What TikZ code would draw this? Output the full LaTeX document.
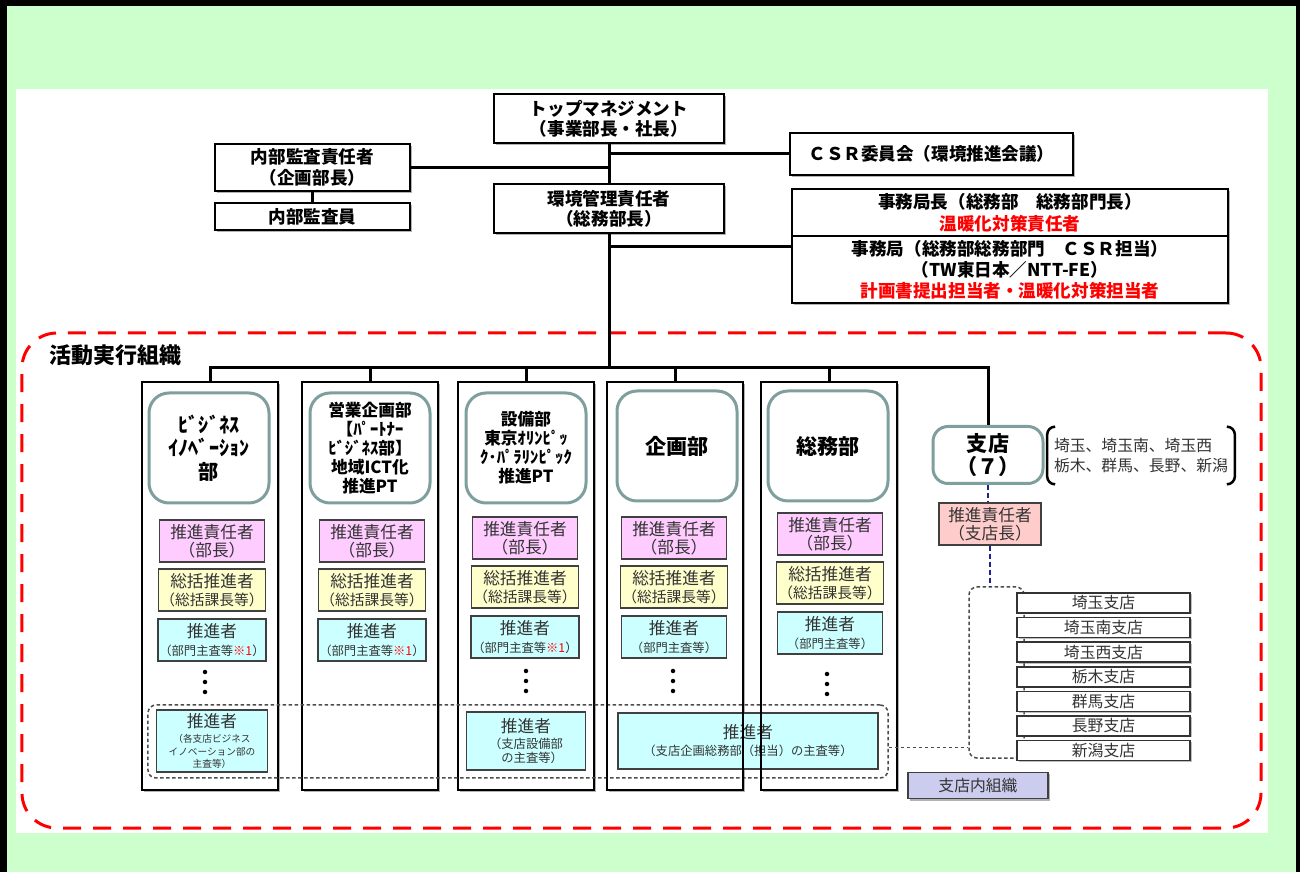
\documentclass[tikz,border=0pt]{standalone}
\usepackage{fontspec}
\setmainfont{Noto Sans CJK JP}
\usepackage{xcolor}
\usetikzlibrary{shadows, positioning, calc}
\definecolor{panelgreen}{HTML}{CCFFCC}
\definecolor{deptteal}{HTML}{7F9F9F}
\definecolor{leadpink}{HTML}{FFCCFF}
\definecolor{chiefyellow}{HTML}{FFFFCC}
\definecolor{membercyan}{HTML}{CCFFFF}
\definecolor{branchpink}{HTML}{FFCCCC}
\definecolor{localviolet}{HTML}{CCCCEE}
\definecolor{alertred}{HTML}{FF0000}
\definecolor{linknavy}{HTML}{20208F}
\newcommand{\notejp}{\fontsize{7}{8}\selectfont}
\newcommand{\tinyjp}{\fontsize{5.5}{7}\selectfont}

\begin{document}
\begin{tikzpicture}[x=0.2mm, y=-0.2mm,
  softshadow/.style={drop shadow={shadow xshift=0.4mm, shadow yshift=-0.4mm, fill=black!60, opacity=.5}},
  mgmt/.style={rectangle, draw=black, line width=0.3mm, fill=white, align=center, inner sep=0.5mm, font=\bfseries\fontsize{10}{11.5}\selectfont, softshadow},
  column/.style={rectangle, draw=black, line width=0.5mm, fill=white, outer sep=0, minimum width=27.2mm, minimum height=81.6mm, softshadow},
  dept/.style={rectangle, draw=deptteal, line width=0.6mm, fill=white, rounded corners=4mm, minimum width=24mm, minimum height=22mm, align=center, font=\bfseries\fontsize{9.5}{10.8}\selectfont},
  lead/.style={rectangle, draw=black!75, line width=0.25mm, fill=leadpink, minimum width=21mm, minimum height=8.4mm, align=center, inner sep=0.3mm, text=black!80, font=\fontsize{9.5}{10}\selectfont},
  chief/.style={lead, fill=chiefyellow},
  member/.style={lead, fill=membercyan},
  shop/.style={rectangle, draw=black!80, line width=0.3mm, fill=white, minimum width=34.6mm, minimum height=4mm, inner sep=0, text=black!80, font=\fontsize{9}{10}\selectfont, drop shadow={shadow xshift=0.3mm, shadow yshift=-0.3mm, fill=black!50, opacity=.5}},
  execzone/.style={rectangle, draw=alertred, line width=0.6mm, dash pattern=on 3.6mm off 2.4mm, rounded corners=7mm, inner sep=0},
  localgroup/.style={rectangle, draw=black!70, line width=0.3mm, dash pattern=on 0.7mm off 0.5mm, rounded corners=1.6mm, inner sep=0},
  link/.style={draw=black, line width=0.6mm},
  localline/.style={draw=black!70, line width=0.3mm, dash pattern=on 0.7mm off 0.5mm},
  navyline/.style={draw=linknavy, line width=0.35mm, dash pattern=on 1mm off 0.6mm},
  bracket/.style={draw=black, line width=0.5mm, rounded corners=1.6mm}
]
  % Background
  \useasboundingbox (0,0) rectangle (1300,872);
  \fill[black] (0,0) rectangle (1300,872);
  \fill[panelgreen] (7,6) rectangle (1296,872);
  \fill[white] (16,89) rectangle (1268,833);

  % Management
  \node[mgmt, minimum width=46mm, minimum height=9.8mm] (top) at (609,118.5) {トップマネジメント\\（事業部長・社長）};
  \node[mgmt, minimum width=39mm, minimum height=9.4mm] (audit) at (312.5,167.5) {内部監査責任者\\（企画部長）};
  \node[mgmt, minimum width=39mm, minimum height=5.4mm] (auditor) at (312.5,216.5) {内部監査員};
  \node[mgmt, minimum width=46mm, minimum height=9.8mm] (envmgr) at (609,208.5) {環境管理責任者\\（総務部長）};
  \node[mgmt, minimum width=56.6mm, minimum height=8.4mm] (csr) at (931.5,154) {ＣＳＲ委員会（環境推進会議）};
  \node[mgmt, minimum width=87.2mm, minimum height=9.4mm, font=\bfseries\fontsize{10}{12.5}\selectfont] (secchief) at (1010,212.5) {事務局長（総務部　総務部門長）\\\textcolor{alertred}{温暖化対策責任者}};
  \node[mgmt, minimum width=87.2mm, minimum height=13.4mm, font=\bfseries\fontsize{10}{12}\selectfont] (secoffice) at (1010,269.5) {事務局（総務部総務部門　ＣＳＲ担当）\\（TW東日本／NTT-FE）\\\textcolor{alertred}{計画書提出担当者・温暖化対策担当者}};

  % Activity organisation
  \node[execzone, minimum width=247.8mm, minimum height=99mm] (exec) at (641.5,580.5) {};
  \node[anchor=west, font=\bfseries\fontsize{12.5}{14}\selectfont] (execlabel) at (43,355) {活動実行組織};

  \node[column] (col1) at (210,586) {};
  \node[column] (col2) at (370,586) {};
  \node[column] (col3) at (526,586) {};
  \node[column] (col4) at (675,586) {};
  \node[column] (col5) at (829,586) {};

  % Departments
  \node[dept, font=\bfseries\fontsize{11.5}{13.3}\selectfont] (bizinno) at (209,448) {ﾋﾞｼﾞﾈｽ\\ｲﾉﾍﾞｰｼｮﾝ\\部};
  \node[dept] (sales) at (370,448) {営業企画部\\【ﾊﾟｰﾄﾅｰ\\ﾋﾞｼﾞﾈｽ部】\\地域ICT化\\推進PT};
  \node[dept] (facility) at (526,448) {設備部\\東京ｵﾘﾝﾋﾟｯ\\ｸ･ﾊﾟﾗﾘﾝﾋﾟｯｸ\\推進PT};
  \node[dept, font=\bfseries\fontsize{12}{14}\selectfont] (planning) at (677,446) {企画部};
  \node[dept, font=\bfseries\fontsize{12}{14}\selectfont] (general) at (828,446) {総務部};

  % Roles in each department
  \foreach \c/\x/\y/\remark in {bizinno/212/541/{\textcolor{alertred}{※1}}, sales/372/541/{\textcolor{alertred}{※1}}, facility/525/538/{\textcolor{alertred}{※1}}, planning/674/538/{}, general/830/534/{}} {
    \node[lead] (\c-lead) at (\x,\y) {推進責任者\\（部長）};
    \node[chief] (\c-chief) at (\x,\y+49) {総括推進者\\\fontsize{8.4}{9}\selectfont （総括課長等）};
    \node[member] (\c-member) at (\x,\y+99) {推進者\\\notejp （部門主査等\remark{}）};
  }
  \foreach \x/\y in {205/682, 526/681, 673/681, 827/684}
    \foreach \d in {-10,0,10}
      \fill (\x,\y+\d) circle (0.45mm);

  % Local staff
  \node[localgroup, minimum width=148mm, minimum height=14.6mm] (localgrp) at (518,741.5) {};
  \node[member, minimum width=22.2mm, minimum height=12.4mm, font=\tinyjp] (bizinno-local) at (212,741) {\fontsize{9.5}{10}\selectfont 推進者\\[0.6mm]（各支店ビジネス\\イノベーション部の\\主査等）};
  \node[member, minimum width=23.8mm, minimum height=11.6mm, font=\notejp] (facility-local) at (526,741) {\fontsize{9.5}{10}\selectfont 推進者\\[0.4mm]（支店設備部\\\hphantom{（}の主査等）};
  \node[member, minimum width=52mm, minimum height=11.2mm, font=\notejp] (office-local) at (748,741) {\fontsize{9.5}{10}\selectfont 推進者\\[0.6mm]（支店企画総務部（担当）の主査等）};
  \foreach \c in {col4,col5}
    \draw[line width=0.5mm] (\c.south west) rectangle (\c.north east);

  % Branches
  \node[dept, minimum width=22mm, minimum height=11.4mm, rounded corners=3mm, font=\bfseries\fontsize{12}{13.5}\selectfont] (branch) at (988,455) {支店\\（７）};
  \node[align=left, text=black!80, font=\fontsize{9}{11.4}\selectfont, minimum width=37.4mm, minimum height=11.4mm] (branchnote) at (1141,455.5) {埼玉、埼玉南、埼玉西\\栃木、群馬、長野、新潟};
  \draw[bracket] ([xshift=1.6mm]branchnote.north west) -- (branchnote.north west) -- (branchnote.south west) -- ([xshift=1.6mm]branchnote.south west);
  \draw[bracket] ([xshift=-1.6mm]branchnote.north east) -- (branchnote.north east) -- (branchnote.south east) -- ([xshift=-1.6mm]branchnote.south east);
  \node[lead, fill=branchpink, minimum width=20.4mm] (branchlead) at (990,524) {推進責任者\\（支店長）};
  \node[localgroup, minimum width=11mm, minimum height=34.2mm] (branchgrp) at (996.5,672.5) {};
  \foreach \name [count=\i from 0] in {埼玉,埼玉南,埼玉西,栃木,群馬,長野,新潟}
    \node[shop] (shop\i) at (1103.5,603+24.6*\i) {\name 支店};
  \node[rectangle, draw=black!75, line width=0.3mm, fill=localviolet, minimum width=28mm, minimum height=5mm, text=black!80, font=\fontsize{9}{10}\selectfont, softshadow] (legend) at (978,785.5) {支店内組織};

  % Connectors
  \coordinate (bus) at (609,368);
  \draw[link] (top.south) -- (envmgr.north);
  \draw[link] (audit.east) -- (audit.east -| top.south);
  \draw[link] (audit.south) -- (auditor.north);
  \draw[link] (csr.west) -- (csr.west -| top.south);
  \draw[link] ([yshift=-2.2mm]secoffice.north west) -- ([yshift=-2.2mm]secoffice.north west -| envmgr.south);
  \draw[link] (envmgr.south) -- (bus);
  \draw[link] (col1.north) |- (bus) -| (branch.north);
  \foreach \c in {col2,col3,col4,col5}
    \draw[link] (\c.north) -- (\c.north |- bus);
  \draw[navyline] (branch.south) -- (branch.south |- branchlead.north);
  \draw[navyline] (branchlead.south) -- (branchlead.south |- branchgrp.north);
  \draw[localline] ([yshift=-1.2mm]localgrp.east) -- ([yshift=-1.2mm]localgrp.east -| branchgrp.west);
\end{tikzpicture}
\end{document}
